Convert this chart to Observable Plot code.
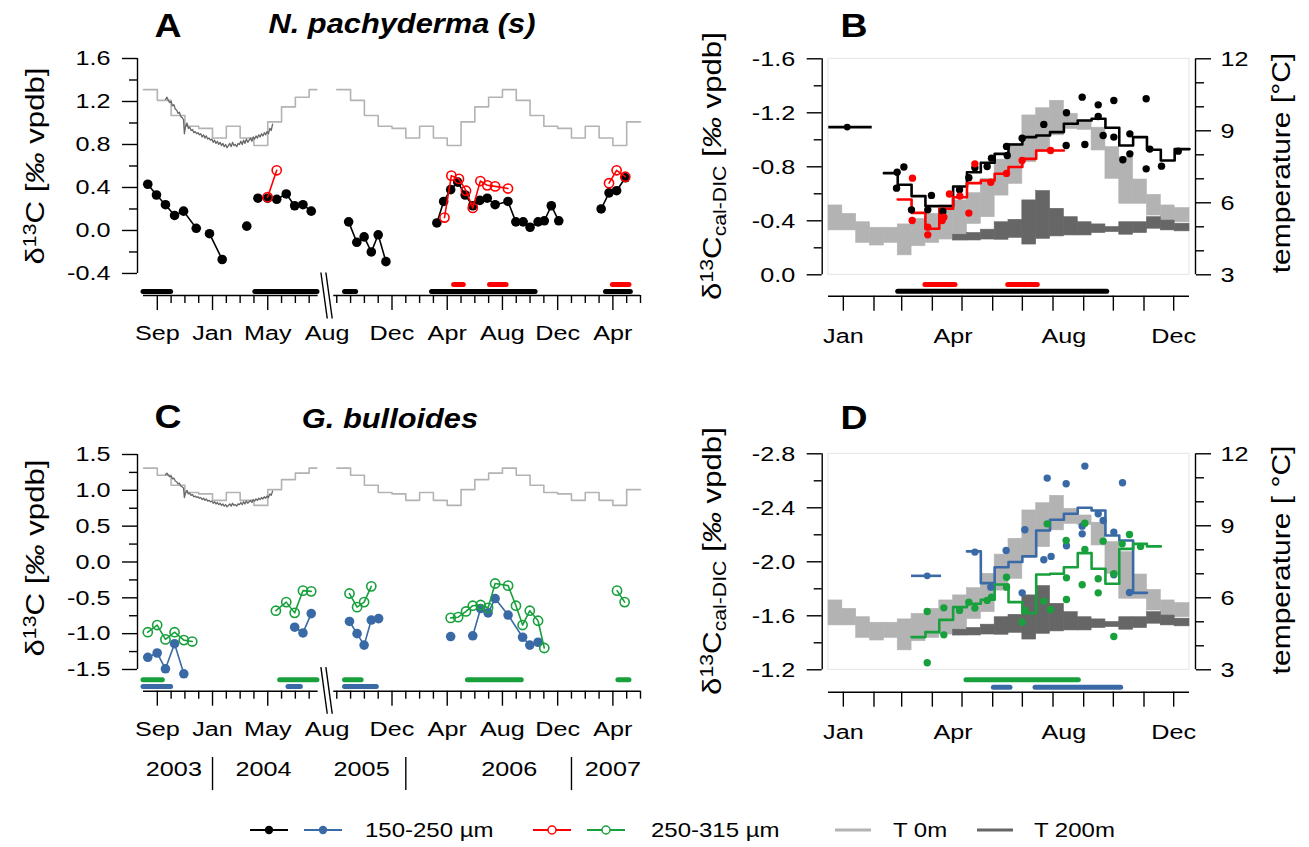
<!DOCTYPE html>
<html>
<head>
<meta charset="utf-8">
<script src="https://cdn.jsdelivr.net/npm/d3@7"></script>
<script src="https://cdn.jsdelivr.net/npm/@observablehq/plot@0.6"></script>
<style>
  body { margin: 0; background: #fff; }
  #fig { position: relative; width: 1309px; height: 847px; overflow: hidden; background: #fff;
         font-family: "Liberation Sans", Arial, Helvetica, sans-serif; color: #000; }
  .panel { position: absolute; }
  .panel svg { display: block; max-width: none; }
  .lab { position: absolute; white-space: nowrap; line-height: 1; }
  .lab sup { font-size: 0.68em; vertical-align: 0; position: relative; top: -0.48em; }
  .lab sub { font-size: 0.68em; vertical-align: 0; position: relative; top: 0.28em; }
</style>
</head>
<body>
<div id="fig"></div>
<script>
// ---------------------------------------------------------------------------
// Time-series panels (A, C): x = months since 1 Aug 2003, with the
// Sep 2004 – Jul 2005 gap collapsed (1 Aug 2005 = 14).
// ---------------------------------------------------------------------------
const majorTicksTS = [1, 5, 9, 18, 22, 26, 30, 34];
const minorTicksTS = [2, 3, 4, 6, 7, 8, 10, 11, 12, 14, 15, 16, 17, 19, 20, 21, 23, 24, 25, 27, 28, 29, 31, 32, 33, 35, 36];
const monthLabelsTS = [
  {t: 1, name: "Sep"}, {t: 5, name: "Jan"}, {t: 9, name: "May"}, {t: 13.3, name: "Aug"},
  {t: 18, name: "Dec"}, {t: 22, name: "Apr"}, {t: 26, name: "Aug"}, {t: 30, name: "Dec"}, {t: 34, name: "Apr"}
];
const axisSegmentsTS = [{t1: 0, t2: 12.65}, {t1: 13.78, t2: 36}];
const yearLabels = [
  {t: 2.2, label: "2003"}, {t: 8.7, label: "2004"}, {t: 15.8, label: "2005"},
  {t: 26.5, label: "2006"}, {t: 34.0, label: "2007"}
];
const yearBreaks = [5, 19, 31];

// monthly surface temperature (drawn on the δ13C scale), Jan..Dec
const surfaceTempMonthly = [0.86, 0.97, 0.86, 0.79, 1.01, 1.15, 1.24, 1.31, 1.21, 1.07, 0.97, 0.95];
const surfaceSegments = [{t0: 0, t1: 12, end: 12.55}, {t0: 14, t1: 35, end: 36}];

// high-resolution temperature record, Sep 2003 – May 2004 (δ13C scale)
const deepT = [1.60, 1.70, 1.80, 1.90, 2.00, 2.10, 2.20, 2.30, 2.40, 2.50, 2.60, 2.70, 2.80, 2.90, 2.96, 3.05, 3.15, 3.25, 3.35, 3.45,
  3.55, 3.65, 3.75, 3.85, 3.95, 4.05, 4.15, 4.25, 4.35, 4.45, 4.55, 4.65, 4.75, 4.85, 4.95, 5.05, 5.15, 5.25, 5.35, 5.45,
  5.55, 5.65, 5.75, 5.85, 5.95, 6.05, 6.15, 6.25, 6.35, 6.45, 6.55, 6.65, 6.75, 6.85, 6.95, 7.05, 7.15, 7.25, 7.35, 7.45,
  7.55, 7.65, 7.75, 7.85, 7.95, 8.05, 8.15, 8.25, 8.35, 8.45, 8.55, 8.65, 8.75, 8.85, 8.95, 9.05, 9.15, 9.25, 9.35];
const deepV = [1.22, 1.24, 1.21, 1.19, 1.20, 1.16, 1.17, 1.13, 1.12, 1.09, 1.10, 1.06, 1.05, 1.03, 0.90, 0.97, 1.00, 0.95, 0.96, 0.93,
  0.94, 0.91, 0.92, 0.90, 0.91, 0.89, 0.90, 0.87, 0.89, 0.86, 0.88, 0.85, 0.86, 0.84, 0.85, 0.82, 0.84, 0.81, 0.83, 0.80,
  0.82, 0.79, 0.81, 0.78, 0.80, 0.77, 0.79, 0.81, 0.78, 0.82, 0.79, 0.80, 0.78, 0.81, 0.80, 0.83, 0.80, 0.84, 0.81, 0.85,
  0.82, 0.84, 0.86, 0.83, 0.87, 0.85, 0.88, 0.86, 0.89, 0.87, 0.90, 0.88, 0.91, 0.89, 0.92, 0.90, 0.95, 0.93, 0.99];

// N. pachyderma (s) δ13C: [t, value, run]
const npSmall = [
  [0.31, 0.43, 1], [0.94, 0.33, 1], [1.59, 0.24, 1], [2.25, 0.14, 1], [2.90, 0.18, 1], [3.82, 0.02, 1],
  [4.78, -0.03, 2], [5.70, -0.27, 2],
  [7.48, 0.04, 3],
  [8.29, 0.30, 4], [8.99, 0.30, 4], [9.65, 0.29, 4], [10.34, 0.34, 4], [10.95, 0.23, 4], [11.55, 0.24, 4], [12.15, 0.18, 4],
  [14.86, 0.08, 5], [15.45, -0.11, 5], [15.98, -0.06, 5], [16.50, -0.20, 5], [17.00, -0.04, 5], [17.56, -0.29, 5],
  [21.25, 0.07, 6], [21.74, 0.27, 6], [22.25, 0.38, 6], [22.76, 0.45, 6], [23.30, 0.33, 6], [23.85, 0.23, 6], [24.36, 0.28, 6],
  [24.90, 0.30, 6], [25.47, 0.24, 6], [26.40, 0.27, 6], [26.97, 0.08, 6], [27.50, 0.08, 6], [28.00, 0.03, 6], [28.58, 0.08, 6],
  [29.03, 0.09, 6], [29.54, 0.23, 6], [30.08, 0.09, 6],
  [33.15, 0.20, 7], [33.72, 0.35, 7], [34.27, 0.37, 7], [34.90, 0.49, 7]
];
const npLarge = [
  [8.99, 0.31, 1], [9.65, 0.56, 1],
  [21.80, 0.12, 2], [22.30, 0.51, 2], [22.85, 0.48, 2], [23.36, 0.37, 2], [23.85, 0.21, 2], [24.40, 0.46, 2],
  [24.90, 0.42, 2], [25.47, 0.41, 2], [26.40, 0.39, 2],
  [33.72, 0.44, 3], [34.27, 0.56, 3], [34.90, 0.50, 3]
];
const npSmallPeriods = [[0, 2.0], [8.1, 12.6], [14.6, 15.4], [20.9, 28.4], [33.5, 35.3]];
const npLargePeriods = [[22.5, 23.2], [25.1, 26.3], [34.0, 35.2]];

// G. bulloides δ13C
const gbSmall = [
  [0.31, -1.33, 1], [0.99, -1.27, 1], [1.59, -1.49, 1], [2.25, -1.14, 1], [2.92, -1.56, 1],
  [10.95, -0.91, 2], [11.55, -0.99, 2], [12.15, -0.72, 2],
  [14.92, -0.83, 3], [15.47, -1.00, 3], [15.98, -1.16, 3], [16.50, -0.81, 3], [17.03, -0.79, 3],
  [22.25, -1.04, 4],
  [23.85, -1.03, 5], [24.42, -0.65, 5], [24.96, -0.71, 5], [25.47, -0.51, 5], [26.41, -0.74, 5],
  [27.46, -1.05, 5], [27.98, -1.16, 5], [28.58, -1.12, 5]
];
const gbLarge = [
  [0.31, -0.98, 1], [0.99, -0.88, 1], [1.59, -1.08, 1], [2.25, -0.98, 1], [2.92, -1.09, 1], [3.53, -1.11, 1],
  [9.59, -0.68, 2], [10.34, -0.56, 2], [10.95, -0.71, 2], [11.55, -0.40, 2], [12.15, -0.41, 2],
  [14.92, -0.44, 3], [15.47, -0.63, 3], [15.98, -0.56, 3], [16.50, -0.34, 3],
  [22.25, -0.78, 4], [22.79, -0.77, 4], [23.36, -0.69, 4], [23.85, -0.61, 4], [24.42, -0.60, 4], [24.96, -0.64, 4],
  [25.47, -0.30, 4], [26.41, -0.33, 4], [26.98, -0.61, 4], [27.46, -0.88, 4], [27.98, -0.68, 4], [28.58, -0.82, 4], [29.03, -1.20, 4],
  [34.30, -0.40, 5], [34.85, -0.56, 5]
];
const gbLargePeriods = [[0, 1.4], [9.9, 12.6], [14.6, 15.8], [23.5, 27.4], [34.4, 35.2]];
const gbSmallPeriods = [[0, 2.0], [10.5, 11.4], [14.6, 16.9]];

// ---------------------------------------------------------------------------
// Seasonal panels (B, D): x = day of year, 14-day bins
// ---------------------------------------------------------------------------
const binStartDays = [0, 14, 28, 42, 56, 70, 84, 98, 112, 126, 140, 154, 168, 182, 196, 210, 224, 238, 252, 266, 280, 294, 308, 322, 336, 350];
const yearEndDay = 365;
const monthTickDays = [15, 46, 74, 105, 135, 166, 196, 227, 258, 288, 319, 349];
const seasonLabels = [{d: 15, name: "Jan"}, {d: 126, name: "Apr"}, {d: 238, name: "Aug"}, {d: 349, name: "Dec"}];

// temperature ranges per bin (°C)
const t0Max = [5.89, 5.54, 5.19, 4.96, 4.96, 5.10, 5.33, 5.54, 5.89, 6.10, 6.40, 7.00, 7.80, 8.46, 9.64, 9.94, 10.25, 9.71, 9.43, 9.13, 8.32, 7.90, 6.97, 6.33, 5.89, 5.78];
const t0Min = [4.85, 4.85, 4.33, 4.22, 4.33, 3.81, 4.19, 4.33, 4.47, 4.43, 5.12, 5.40, 6.30, 6.79, 7.69, 8.11, 8.81, 9.08, 9.04, 8.18, 7.00, 5.96, 5.96, 5.47, 5.22, 5.19];
const t200FirstBin = 9;
const t200Max = [4.67, 4.74, 4.88, 5.19, 5.29, 6.10, 6.49, 5.75, 5.40, 5.19, 5.10, 4.99, 5.19, 5.19, 5.40, 5.26, 5.13];
const t200Min = [4.43, 4.43, 4.47, 4.46, 4.54, 4.26, 4.50, 4.60, 4.64, 4.64, 4.74, 4.78, 4.67, 4.74, 4.92, 4.85, 4.81];

// N. pachyderma (s) δ13C(cal-DIC) bin means
const npSmallBinsFirst = 4;
const npSmallBins = [-0.753, -0.667, -0.583, -0.509, -0.509, -0.654, -0.760, -0.830, -0.896, -0.965, -1.020, -1.032, -1.057, -1.119, -1.143, -1.156, -1.089, -0.958, -1.020, -0.926, -0.847, -0.931];
const npLargeBinsFirst = 5;
const npLargeBins = [-0.558, -0.459, -0.341, -0.489, -0.575, -0.679, -0.699, -0.748, -0.798, -0.859, -0.921, -0.921];
const npSmallSamples = [
  [69.4, -0.760], [76.2, -0.798], [68.8, -0.642], [83.9, -0.481], [104.1, -0.588], [100.4, -0.481], [115.6, -0.469],
  [132.5, -0.630], [141.9, -0.719], [148.0, -0.793], [160.4, -0.802], [164.8, -0.864], [180.7, -0.884], [180.0, -0.951],
  [195.8, -1.012], [217.7, -1.114], [240.3, -0.958], [240.6, -1.200], [256.5, -1.316], [259.2, -0.965], [272.7, -1.259],
  [272.7, -1.173], [277.7, -1.032], [288.5, -1.291], [288.5, -1.020], [297.6, -0.852], [304.7, -1.044], [304.7, -0.896],
  [321.2, -1.304], [321.2, -0.785], [324.9, -0.931], [336.7, -0.805], [353.6, -0.916]
];
const npLargeSamples = [
  [84.9, -0.716], [84.6, -0.402], [100.4, -0.353], [100.4, -0.296], [114.9, -0.402], [116.6, -0.427], [122.3, -0.598],
  [132.8, -0.583], [141.9, -0.457], [148.0, -0.822], [164.1, -0.686], [180.0, -0.751], [195.8, -0.847], [224.5, -0.921]
];
const npWinter = [{d: 18.9, from: 0.3, to: 44.2, v: -1.094}];
const npSmallSeason = [[70.5, 281.8]];
const npLargeSeason = [[98, 128.4], [181.7, 211.6]];

// G. bulloides δ13C(cal-DIC)
const gbSmallBinsFirst = 10;
const gbSmallBins = [-2.077, -1.842, -1.960, -1.998, -2.040, -2.232, -2.311, -2.356, -2.400, -2.380, -2.195, -2.158, -1.770];
const gbLargeBinsFirst = 6;
const gbLargeBins = [-1.442, -1.479, -1.570, -1.664, -1.689, -1.719, -1.832, -1.701, -1.620, -1.906, -1.911, -1.960, -2.064, -1.948, -1.837, -2.096, -2.133, -2.114];
const gbSmallSamples = [
  [148.0, -2.072], [164.1, -1.812], [179.6, -2.084], [195.8, -1.770], [198.5, -2.237], [217.7, -2.015], [225.1, -2.040],
  [221.1, -2.620], [240.3, -2.578], [240.6, -2.119], [256.5, -2.264], [256.5, -2.207], [259.2, -2.709], [272.7, -2.356],
  [277.7, -2.306], [288.5, -2.220], [288.5, -1.904], [297.3, -2.585], [304.3, -1.773]
];
const gbLargeSamples = [
  [99.8, -1.632], [99.8, -1.252], [116.6, -1.659], [116.6, -1.459], [132.5, -1.640], [141.9, -1.701], [148.0, -1.657],
  [160.4, -1.714], [164.8, -1.738], [180.0, -1.886], [180.0, -1.812], [195.8, -1.553], [198.5, -1.640], [217.7, -1.709],
  [224.5, -1.647], [221.1, -2.281], [240.3, -2.158], [240.6, -1.881], [240.6, -1.721], [256.5, -1.830], [259.2, -2.091],
  [259.2, -2.286], [272.7, -1.874], [272.7, -1.770], [277.7, -2.153], [288.5, -1.911], [288.5, -1.447], [296.9, -2.133],
  [304.3, -2.202], [315.5, -2.114]
];
const gbWinter = [{d: 99.8, from: 83.9, to: 114.3, v: -1.896}];
const gbLargeSeason = [[139.5, 253.1]];
const gbSmallSeason = [[167.2, 184], [209.3, 295.9]];

// ---------------------------------------------------------------------------
const FONT = '"Liberation Sans", Arial, Helvetica, sans-serif';
const TEXT_STRETCH = 1.2;
const BLACK = "#000000", RED = "#ff0000", BLUE = "#3a6aa6", GREEN = "#17a03c";
const LIGHT = "#b3b3b3", DARK = "#666666";
const fig = document.getElementById("fig");

const rows = (arr) => arr.map(([t, v, g]) => ({t, v, g}));
const fmt1 = (d) => d.toFixed(1);

// horizontally widen every text element about its own anchor point
function widen(root, k = TEXT_STRETCH) {
  root.querySelectorAll("text").forEach((el) => {
    const x = +(el.getAttribute("x") || 0);
    const tr = el.getAttribute("transform") || "";
    el.setAttribute("transform", `${tr} translate(${x},0) scale(${k},1) translate(${-x},0)`);
  });
}
function place(node, left, top, width) {
  const div = document.createElement("div");
  div.className = "panel";
  div.style.left = left + "px";
  div.style.top = top + "px";
  div.style.width = width + "px";
  div.appendChild(node);
  fig.appendChild(div);
  widen(node);
}
function label(html, x, y, css = "", rotate = false, k = TEXT_STRETCH) {
  const div = document.createElement("div");
  div.className = "lab";
  div.innerHTML = html;
  div.style.cssText += `left:${x}px;top:${y}px;${css}`;
  div.style.transform = `translate(-50%,-50%)${rotate ? " rotate(-90deg)" : ""} scale(${k},1)`;
  fig.appendChild(div);
}

// surface-temperature step line for the time-series panels
const surfaceLine = surfaceSegments.flatMap((s, i) => {
  const pts = d3.range(s.t0, s.t1 + 1).map((t) => {
    const month = (7 + (t >= 14 ? t - 14 : t)) % 12;
    return {t, v: surfaceTempMonthly[month], g: i};
  });
  pts.push({t: s.end, v: pts[pts.length - 1].v, g: i});
  return pts;
});
const deepLine = deepT.map((t, i) => ({t, v: deepV[i]}));
const nameAt = new Map(monthLabelsTS.map((d) => [d.t, d.name]));

function timeSeriesPanel({yDomain, yMajor, yMinor, small, large, smallColor, largeColor,
                          smallPeriods, largePeriods, ySmallBar, yLargeBar, breakY, height, marginTop, marginBottom, years}) {
  const axisTop = yMajor[yMajor.length - 1], axisBottom = yMajor[0];
  const marks = [
    Plot.line(surfaceLine, {x: "t", y: "v", z: "g", curve: "step-after", stroke: LIGHT, strokeWidth: 1.6}),
    Plot.line(deepLine, {x: "t", y: "v", stroke: DARK, strokeWidth: 1.3}),
    Plot.line(rows(small), {x: "t", y: "v", z: "g", stroke: smallColor, strokeWidth: 1.6}),
    Plot.dot(rows(small), {x: "t", y: "v", r: 4.8, fill: smallColor}),
    Plot.line(rows(large), {x: "t", y: "v", z: "g", stroke: largeColor, strokeWidth: 1.6}),
    Plot.dot(rows(large), {x: "t", y: "v", r: 4.6, stroke: largeColor, strokeWidth: 1.6, fill: "none"}),
    Plot.ruleY(smallPeriods, {x1: (d) => d[0], x2: (d) => d[1], y: ySmallBar, stroke: smallColor, strokeWidth: 5, strokeLinecap: "round"}),
    Plot.ruleY(largePeriods, {x1: (d) => d[0], x2: (d) => d[1], y: yLargeBar, stroke: largeColor, strokeWidth: 5, strokeLinecap: "round"}),
    Plot.ruleX([0], {y1: axisBottom, y2: axisTop, dx: -6, stroke: BLACK, strokeWidth: 1.4}),
    Plot.axisY(yMajor, {tickSize: 15, tickPadding: 12, tickFormat: fmt1, fontSize: 21, strokeWidth: 1.4, label: null}),
    Plot.axisY(yMinor, {tickSize: 8, tickFormat: () => "", strokeWidth: 1.4, label: null}),
    Plot.ruleY(axisSegmentsTS, {x1: "t1", x2: "t2", y: yDomain[0], stroke: BLACK, strokeWidth: 1.4}),
    Plot.axisX(majorTicksTS, {tickSize: 15, tickFormat: () => "", strokeWidth: 1.4, label: null}),
    Plot.axisX(minorTicksTS, {tickSize: 8, tickFormat: () => "", strokeWidth: 1.4, label: null}),
    Plot.axisX(monthLabelsTS.map((d) => d.t), {tickSize: 0, tickPadding: 30, tickFormat: (t) => nameAt.get(t), fontSize: 21, label: null}),
    Plot.link([0, 0.36], {x1: (d) => 12.85 + d, x2: (d) => 13.31 + d, y1: breakY[0], y2: breakY[1], stroke: BLACK, strokeWidth: 1.4})
  ];
  if (years) {
    marks.push(
      Plot.text(yearLabels, {x: "t", text: "label", frameAnchor: "bottom", dy: 85, fontSize: 21}),
      Plot.ruleX(yearBreaks, {y1: years[0], y2: years[1], stroke: BLACK, strokeWidth: 1.4})
    );
  }
  return Plot.plot({
    width: 660, height, marginLeft: 137, marginRight: 20, marginTop, marginBottom, insetLeft: 6,
    x: {domain: [0, 36], label: null},
    y: {domain: yDomain, label: null},
    style: {fontFamily: FONT, fontSize: "21px", background: "transparent", color: BLACK, overflow: "visible"},
    marks
  });
}

// ---------- panel A ----------
place(timeSeriesPanel({
  yDomain: [-0.605, 1.6], yMajor: [-0.4, 0, 0.4, 0.8, 1.2, 1.6], yMinor: [-0.2, 0.2, 0.6, 1.0, 1.4],
  small: npSmall, large: npLarge, smallColor: BLACK, largeColor: RED,
  smallPeriods: npSmallPeriods, largePeriods: npLargePeriods, ySmallBar: -0.567, yLargeBar: -0.502,
  breakY: [-0.391, -0.819], height: 380, marginTop: 58, marginBottom: 85
}), 0, 0, 660);

// ---------- panel C ----------
place(timeSeriesPanel({
  yDomain: [-1.803, 1.5], yMajor: [-1.5, -1.0, -0.5, 0, 0.5, 1.0, 1.5], yMinor: [-1.25, -0.75, -0.25, 0.25, 0.75, 1.25],
  small: gbSmall, large: gbLarge, smallColor: BLUE, largeColor: GREEN,
  smallPeriods: gbSmallPeriods, largePeriods: gbLargePeriods, ySmallBar: -1.738, yLargeBar: -1.644,
  breakY: [-1.468, -2.118], height: 410, marginTop: 64, marginBottom: 109.3, years: [-2.728, -3.19]
}), 0, 390, 660);

// ---------- seasonal panels ----------
function binRows(first, values) {
  return values.map((v, i) => {
    const k = first + i;
    return {d0: binStartDays[k], d1: k + 1 < binStartDays.length ? binStartDays[k + 1] : yearEndDay, v};
  });
}
function stepRows(first, values) {
  const b = binRows(first, values);
  return [...b.map((r) => ({d: r.d0, v: r.v})), {d: b[b.length - 1].d1, v: b[b.length - 1].v}];
}

function seasonalPanel({toV, yDomain, yMajor, yMinor, smallBins, smallFirst, largeBins, largeFirst,
                        smallSamples, largeSamples, winter, smallColor, largeColor, smallSeason, largeSeason,
                        ySmallBar, yLargeBar, height, marginTop, marginBottom}) {
  const vTop = yMajor[0], vBottom = yMajor[yMajor.length - 1];
  const surface = binStartDays.map((d0, k) => ({d0, d1: k + 1 < binStartDays.length ? binStartDays[k + 1] : yearEndDay, lo: t0Min[k], hi: t0Max[k]}));
  const deep = t200Max.map((hi, i) => {
    const k = t200FirstBin + i;
    return {d0: binStartDays[k], d1: k + 1 < binStartDays.length ? binStartDays[k + 1] : yearEndDay, lo: t200Min[i], hi};
  });
  const tMajor = [3, 6, 9, 12], tMinor = [4, 5, 7, 8, 10, 11];
  const tempAt = new Map(tMajor.map((T) => [toV(T), T]));
  const labelAt = new Map(seasonLabels.map((d) => [d.d, d.name]));
  return Plot.plot({
    width: 649, height, marginLeft: 161.7, marginRight: 114, marginTop, marginBottom, insetLeft: 6.3, insetRight: 6,
    x: {domain: [0, yearEndDay], label: null},
    y: {domain: yDomain, label: null},
    style: {fontFamily: FONT, fontSize: "21px", background: "transparent", color: BLACK, overflow: "visible"},
    marks: [
      Plot.rect([0], {x1: 0, x2: yearEndDay, y1: vTop, y2: vBottom, fill: "none", stroke: "#e4e4e4", strokeWidth: 1}),
      Plot.rect(surface, {x1: "d0", x2: "d1", y1: (d) => toV(d.lo), y2: (d) => toV(d.hi), fill: LIGHT, stroke: LIGHT, strokeWidth: 0.6}),
      Plot.rect(deep, {x1: "d0", x2: "d1", y1: (d) => toV(d.lo), y2: (d) => toV(d.hi), fill: DARK, stroke: DARK, strokeWidth: 0.6}),
      Plot.line(stepRows(smallFirst, smallBins), {x: "d", y: "v", curve: "step-after", stroke: smallColor, strokeWidth: 2.6}),
      Plot.line(stepRows(largeFirst, largeBins), {x: "d", y: "v", curve: "step-after", stroke: largeColor, strokeWidth: 2.6}),
      Plot.dot(smallSamples, {x: (d) => d[0], y: (d) => d[1], r: 3.7, fill: smallColor}),
      Plot.dot(largeSamples, {x: (d) => d[0], y: (d) => d[1], r: 3.7, fill: largeColor}),
      Plot.ruleY(winter, {x1: "from", x2: "to", y: "v", stroke: smallColor, strokeWidth: 2.6}),
      Plot.dot(winter, {x: "d", y: "v", r: 3.4, fill: smallColor}),
      Plot.ruleY(smallSeason, {x1: (d) => d[0], x2: (d) => d[1], y: ySmallBar, stroke: smallColor, strokeWidth: 5, strokeLinecap: "round"}),
      Plot.ruleY(largeSeason, {x1: (d) => d[0], x2: (d) => d[1], y: yLargeBar, stroke: largeColor, strokeWidth: 5, strokeLinecap: "round"}),
      // left axis (δ13C)
      Plot.ruleX([0], {y1: vTop, y2: vBottom, dx: -6.3, stroke: BLACK, strokeWidth: 1.4}),
      Plot.axisY(yMajor, {anchor: "left", tickSize: 15, tickPadding: 12, tickFormat: fmt1, fontSize: 21, strokeWidth: 1.4, label: null}),
      Plot.axisY(yMinor, {anchor: "left", tickSize: 8, tickFormat: () => "", strokeWidth: 1.4, label: null}),
      // right axis (temperature)
      Plot.ruleX([yearEndDay], {y1: vTop, y2: vBottom, dx: 6, stroke: BLACK, strokeWidth: 1.4}),
      Plot.axisY(tMajor.map(toV), {anchor: "right", tickSize: 15, tickPadding: 10, tickFormat: (v) => String(tempAt.get(v)), fontSize: 21, strokeWidth: 1.4, label: null}),
      Plot.axisY(tMinor.map(toV), {anchor: "right", tickSize: 8, tickFormat: () => "", strokeWidth: 1.4, label: null}),
      // season axis
      Plot.ruleY([yDomain[0]], {x1: 0, x2: yearEndDay, stroke: BLACK, strokeWidth: 1.4}),
      Plot.axisX(monthTickDays, {tickSize: 15, tickFormat: () => "", strokeWidth: 1.4, label: null}),
      Plot.axisX(seasonLabels.map((d) => d.d), {tickSize: 0, tickPadding: 32, tickFormat: (d) => labelAt.get(d), fontSize: 21, label: null})
    ]
  });
}

const TPX = 1.6 / 9; // δ13C units per °C on the shared frame
// ---------- panel B ----------
place(seasonalPanel({
  toV: (T) => -1.6 + (12 - T) * TPX,
  yDomain: [0.1585, -1.6], yMajor: [-1.6, -1.2, -0.8, -0.4, 0], yMinor: [-1.4, -1.0, -0.6, -0.2],
  smallBins: npSmallBins, smallFirst: npSmallBinsFirst, largeBins: npLargeBins, largeFirst: npLargeBinsFirst,
  smallSamples: npSmallSamples, largeSamples: npLargeSamples, winter: npWinter,
  smallColor: BLACK, largeColor: RED, smallSeason: npSmallSeason, largeSeason: npLargeSeason,
  ySmallBar: 0.121, yLargeBar: 0.072, height: 380, marginTop: 58.3, marginBottom: 84.3
}), 660, 0, 649);

// ---------- panel D ----------
place(seasonalPanel({
  toV: (T) => -2.8 + (12 - T) * TPX,
  yDomain: [-1.034, -2.8], yMajor: [-2.8, -2.4, -2.0, -1.6, -1.2], yMinor: [-2.6, -2.2, -1.8, -1.4],
  smallBins: gbSmallBins, smallFirst: gbSmallBinsFirst, largeBins: gbLargeBins, largeFirst: gbLargeBinsFirst,
  smallSamples: gbSmallSamples, largeSamples: gbLargeSamples, winter: gbWinter,
  smallColor: BLUE, largeColor: GREEN, smallSeason: gbSmallSeason, largeSeason: gbLargeSeason,
  ySmallBar: -1.071, yLargeBar: -1.126, height: 360, marginTop: 63.3, marginBottom: 58.3
}), 660, 390, 649);

// ---------- titles and axis titles ----------
label("A", 168, 25, "font-size:34px;font-weight:bold;", false, 1.1);
label("N. pachyderma (s)", 402, 24, "font-size:28px;font-weight:bold;font-style:italic;", false, 1.1);
label("B", 854, 25, "font-size:34px;font-weight:bold;", false, 1.1);
label("C", 168, 416, "font-size:34px;font-weight:bold;", false, 1.1);
label("G. bulloides", 390, 419, "font-size:28px;font-weight:bold;font-style:italic;", false, 1.1);
label("D", 854, 417, "font-size:34px;font-weight:bold;", false, 1.1);

label("δ<sup>13</sup>C [<i>‰</i> vpdb]", 35, 166, "font-size:26px;", true);
label("δ<sup>13</sup>C [<i>‰</i> vpdb]", 35, 558, "font-size:26px;", true);
label("δ<sup>13</sup>C<sub>cal-DIC</sub> [<i>‰</i> vpdb]", 712, 166, "font-size:26px;", true);
label("δ<sup>13</sup>C<sub>cal-DIC</sub> [<i>‰</i> vpdb]", 712, 561, "font-size:26px;", true);
label("temperature [°C]", 1281, 163, "font-size:25px;", true);
label("temperature [ °C]", 1281, 560, "font-size:25px;", true);

// ---------- legend ----------
const legendItems = [
  {kind: "series", x: 250, color: BLACK, open: false},
  {kind: "series", x: 304, color: BLUE, open: false},
  {kind: "text", x: 365, text: "150-250 µm"},
  {kind: "series", x: 533, color: RED, open: true},
  {kind: "series", x: 587, color: GREEN, open: true},
  {kind: "text", x: 651, text: "250-315 µm"},
  {kind: "temp", x: 835, color: LIGHT},
  {kind: "text", x: 893, text: "T 0m"},
  {kind: "temp", x: 977, color: DARK},
  {kind: "text", x: 1034, text: "T 200m"}
];
const legend = d3.create("svg").attr("width", 1309).attr("height", 40)
  .style("font-family", FONT).style("font-size", "20px");
const ly = 20;
for (const it of legendItems) {
  if (it.kind === "series") {
    legend.append("line").attr("x1", it.x).attr("x2", it.x + 38).attr("y1", ly).attr("y2", ly)
      .attr("stroke", it.color).attr("stroke-width", 1.8);
    legend.append("circle").attr("cx", it.x + 19).attr("cy", ly).attr("r", it.open ? 4 : 4.2)
      .attr("fill", it.open ? "#fff" : it.color).attr("stroke", it.color).attr("stroke-width", it.open ? 1.5 : 0);
  } else if (it.kind === "temp") {
    legend.append("line").attr("x1", it.x).attr("x2", it.x + 36).attr("y1", ly).attr("y2", ly)
      .attr("stroke", it.color).attr("stroke-width", 3);
  } else {
    legend.append("text").attr("x", it.x).attr("y", ly + 7).attr("fill", BLACK).text(it.text);
  }
}
place(legend.node(), 0, 810, 1309);
</script>
</body>
</html>
